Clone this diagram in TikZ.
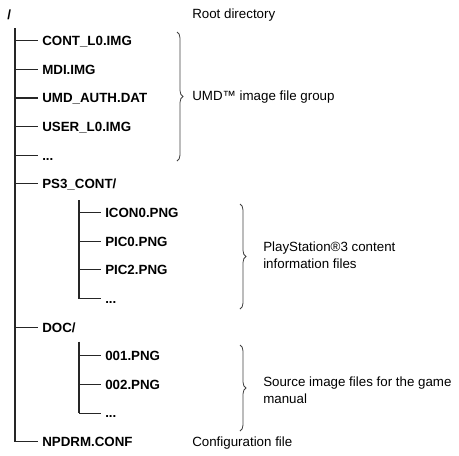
\documentclass[tikz,border=0pt]{standalone}
\usepackage{fontspec}
\setmainfont{Liberation Sans}
\usetikzlibrary{decorations.pathreplacing}
\begin{document}
\begin{tikzpicture}[x=0.75pt,y=-0.75pt,
  file/.style={anchor=west,inner xsep=3pt,inner ysep=0pt,text height=7.2pt,text depth=0pt,
    font=\fontsize{10}{12}\selectfont\bfseries},
  note/.style={anchor=base west,inner sep=0pt,align=left,
    font=\fontsize{10}{12.5}\selectfont},
  tree/.style={draw=black!85,line width=0.8pt},
  grp/.style={draw=black!75,line width=0.6pt,decorate,decoration={brace,amplitude=4.5pt}}]
\useasboundingbox (0,0) rectangle (459,455);
% root
\node[anchor=base west,inner sep=0pt,font=\fontsize{10}{12}\selectfont\bfseries] (root) at (7,19) {/};
\node[note] (rootnote) at (192,18) {Root directory};
\coordinate (trunk) at (15,28);
% level 1
\node[file] (cont) at (38,40.7) {CONT\_L0.IMG};
\node[file] (mdi) at (38,69.35) {MDI.IMG};
\node[file] (auth) at (38,98.0) {UMD\_AUTH.DAT};
\node[file] (user) at (38,126.65) {USER\_L0.IMG};
\node[file] (dotsa) at (38,155.3) {...};
\node[file] (ps3) at (38,183.95) {PS3\_CONT/};
\node[file] (doc) at (38,327.2) {DOC/};
\node[file] (npdrm) at (38,441.8) {NPDRM.CONF};
% level 2 (PS3_CONT)
\coordinate (sub1) at (79,200);
\node[file] (icon) at (101,212.6) {ICON0.PNG};
\node[file] (pic0) at (101,241.25) {PIC0.PNG};
\node[file] (pic2) at (101,269.9) {PIC2.PNG};
\node[file] (dotsb) at (101,298.55) {...};
% level 2 (DOC)
\coordinate (sub2) at (79,341.5);
\node[file] (p001) at (101,355.85) {001.PNG};
\node[file] (p002) at (101,384.5) {002.PNG};
\node[file] (dotsc) at (101,413.15) {...};
% trunks
\draw[tree] (trunk) -- (trunk |- npdrm.west);
\draw[tree] (sub1) -- (sub1 |- dotsb.west);
\draw[tree] (sub2) -- (sub2 |- dotsc.west);
% branches
\foreach \n in {cont,mdi,auth,user,dotsa,ps3,doc,npdrm}
  \draw[tree] (trunk |- \n.west) -- (\n.west);
\foreach \n in {icon,pic0,pic2,dotsb}
  \draw[tree] (sub1 |- \n.west) -- (\n.west);
\foreach \n in {p001,p002,dotsc}
  \draw[tree] (sub2 |- \n.west) -- (\n.west);
% braces
\coordinate (b1t) at (177,32);
\coordinate (b1b) at (177,161);
\coordinate (b2t) at (240,204);
\coordinate (b2b) at (240,309);
\coordinate (b3t) at (240,345);
\coordinate (b3b) at (240,431);
\draw[grp] (b1t) -- (b1b);
\draw[grp] (b2t) -- (b2b);
\draw[grp] (b3t) -- (b3b);
% notes
\node[note] (umdnote) at (192,100) {UMD™ image file group};
\node[note] (ps3note) at (263,268.5) {PlayStation®3 content\\information files};
\node[note] (docnote) at (263,403) {Source image files for the game\\manual};
\node[note] (confnote) at (192,446.5) {Configuration file};
\end{tikzpicture}
\end{document}
